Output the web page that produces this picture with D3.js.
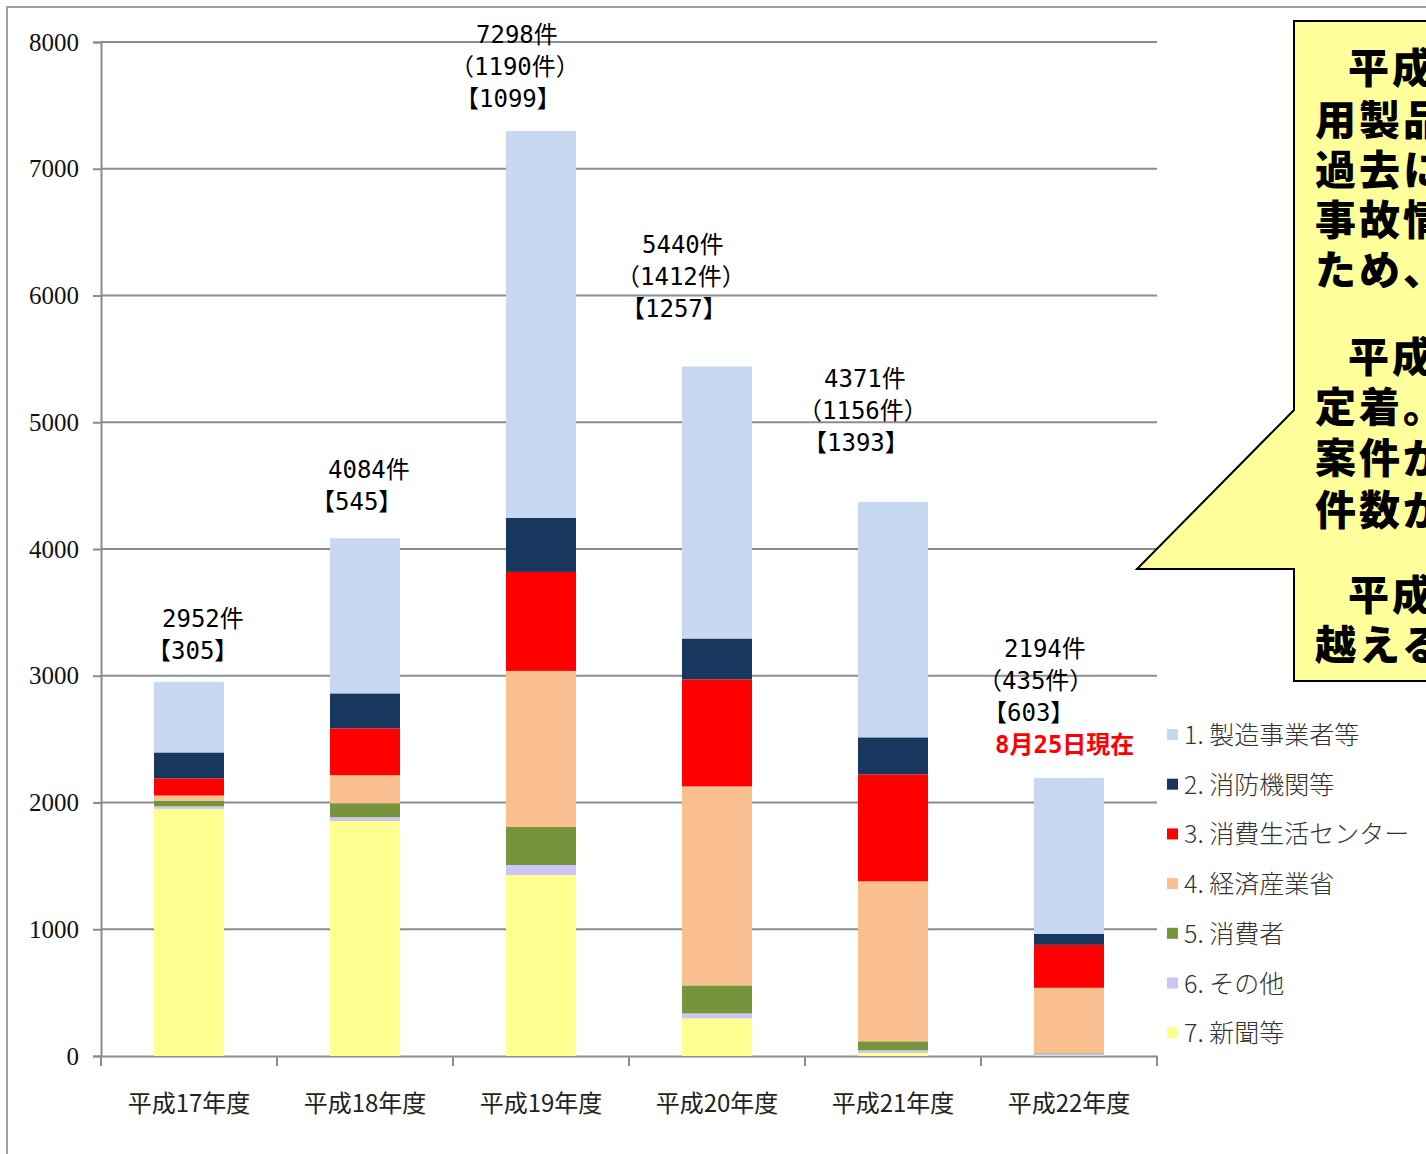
<!DOCTYPE html>
<html>
<head>
<meta charset="utf-8">
<script src="https://cdnjs.cloudflare.com/ajax/libs/d3/7.8.5/d3.min.js"></script>
<style>
  html, body { margin: 0; padding: 0; background: #fff; overflow: hidden; }
  svg { display: block; }
</style>
</head>
<body>
<svg id="chart" width="1426" height="1154"></svg>
<script>
// chart data
var years = ["平成17年度", "平成18年度", "平成19年度", "平成20年度", "平成21年度", "平成22年度"];
var seriesNames = ["1. 製造事業者等", "2. 消防機関等", "3. 消費生活センター", "4. 経済産業省", "5. 消費者", "6. その他", "7. 新聞等"];
var seriesColors = ["#c6d9f1", "#17375e", "#ff0000", "#fac090", "#77933c", "#ccc6f4", "#ffff8f"];
// values per series, one per year (stack bottom = 7. 新聞等)
var makers    = [557, 1223, 3053, 2146, 1857, 1230];
var fireDept  = [205, 276, 426, 323, 292, 87];
var centers   = [135, 370, 781, 844, 844, 339];
var meti      = [40, 221, 1231, 1570, 1262, 513];
var consumers = [45, 110, 300, 221, 71, 5];
var others    = [20, 30, 79, 39, 20, 15];
var papers    = [1950, 1854, 1428, 297, 25, 5];
var totals    = [2952, 4084, 7298, 5440, 4371, 2194];
var subCounts = [null, null, 1190, 1412, 1156, 435];
var bracketCounts = [305, 545, 1099, 1257, 1393, 603];
var yTicks = [0, 1000, 2000, 3000, 4000, 5000, 6000, 7000, 8000];
var noteText = "8月25日現在";
var calloutLines = ["　平成", "用製品", "過去に", "事故情", "ため、", "　平成", "定着。", "案件が", "件数が", "　平成", "越える"];

// layout
var labelDx = [-30, -42, -74, -84, -78, -74];   // text block left relative to band centre
var numberIndent = [3, 5, 9, 9, 9, 9];          // indent of the "件" total line
var labelGap = [19, 24, 20, 45, 47, 21];        // gap between block bottom and bar top
var calloutY = [68, 120, 170, 220, 270, 357, 407, 458, 510, 595, 645]; // line centres

var svg = d3.select("#chart");
var monoFont = "'DejaVu Sans Mono', 'Noto Sans CJK JP', monospace";
var cjkFont = "'Noto Sans CJK JP', sans-serif";

// outer frame
svg.append("rect")
  .attr("x", 7).attr("y", 7).attr("width", 1500).attr("height", 1300)
  .attr("fill", "#fff").attr("stroke", "#a0a0a0").attr("stroke-width", 2);

var x = d3.scaleBand().domain(years).range([101, 1157]).paddingInner(0).paddingOuter(0);
var y = d3.scaleLinear().domain([0, 8000]).range([1056, 42]);
var barW = 70;

// gridlines
svg.append("g").selectAll("line").data(yTicks.filter(function(d) { return d > 0; }))
  .join("line")
  .attr("x1", 101).attr("x2", 1157)
  .attr("y1", function(d) { return y(d); }).attr("y2", function(d) { return y(d); })
  .attr("stroke", "#8c8c8c").attr("stroke-width", 2);

// y axis
var yAxis = svg.append("g").attr("transform", "translate(101,0)")
  .call(d3.axisLeft(y).tickValues(yTicks).tickSize(8).tickPadding(14).tickFormat(d3.format("d")));
yAxis.attr("font-family", null).attr("font-size", null);
yAxis.select(".domain").attr("stroke", "#8c8c8c").attr("stroke-width", 2);
yAxis.selectAll(".tick line").attr("stroke", "#8c8c8c").attr("stroke-width", 2);
yAxis.selectAll("text")
  .style("font-family", "'Liberation Serif', 'DejaVu Serif', serif")
  .style("font-size", "25px").attr("fill", "#111");

// x axis (ticks at category boundaries)
var xAxis = svg.append("g").attr("transform", "translate(0," + y(0) + ")")
  .call(d3.axisBottom(x).tickSize(0).tickPadding(39));
xAxis.select(".domain").attr("stroke", "#8c8c8c").attr("stroke-width", 2);
xAxis.selectAll("text").style("font-family", cjkFont).style("font-size", "24px").attr("fill", "#222");
svg.append("g").selectAll("line").data(years.concat(["end"]))
  .join("line")
  .attr("x1", function(d, i) { return 101 + i * x.bandwidth(); })
  .attr("x2", function(d, i) { return 101 + i * x.bandwidth(); })
  .attr("y1", y(0)).attr("y2", y(0) + 10)
  .attr("stroke", "#8c8c8c").attr("stroke-width", 2);

// stacked bars
var seriesValues = [makers, fireDept, centers, meti, consumers, others, papers];
var rows = years.map(function(yr, i) {
  var r = { year: yr };
  seriesNames.forEach(function(s, k) { r[s] = seriesValues[k][i]; });
  return r;
});
var stackOrder = seriesNames.slice().reverse();
var stacked = d3.stack().keys(stackOrder)(rows);

svg.append("g").selectAll("g").data(stacked)
  .join("g")
  .attr("fill", function(d) { return seriesColors[seriesNames.indexOf(d.key)]; })
  .selectAll("rect").data(function(d) { return d; })
  .join("rect")
  .attr("x", function(d) { return x(d.data.year) + x.bandwidth() / 2 - barW / 2; })
  .attr("width", barW)
  .attr("y", function(d) { return y(d[1]); })
  .attr("height", function(d) { return y(d[0]) - y(d[1]); });

// value labels above bars
years.forEach(function(yr, i) {
  var lines = [{ t: totals[i] + "件", dx: numberIndent[i], color: "#000", bold: false }];
  if (subCounts[i] != null) lines.push({ t: "（" + subCounts[i] + "件）", dx: -17, color: "#000", bold: false });
  lines.push({ t: "【" + bracketCounts[i] + "】", dx: -12, color: "#000", bold: false });
  if (i === years.length - 1) lines.push({ t: noteText, dx: 0, color: "#ff0000", bold: true });
  var x0 = x(yr) + x.bandwidth() / 2 + labelDx[i];
  var bottom = y(totals[i]) - labelGap[i];
  var lineH = 32;
  lines.forEach(function(l, k) {
    svg.append("text")
      .attr("x", x0 + l.dx)
      .attr("y", bottom - (lines.length - 1 - k) * lineH - 4)
      .attr("font-family", monoFont)
      .attr("font-size", 24)
      .attr("font-weight", l.bold ? "bold" : "normal")
      .attr("fill", l.color)
      .text(l.t);
  });
});

// legend
var legend = svg.append("g").attr("transform", "translate(1167,735)");
var items = legend.selectAll("g").data(seriesNames)
  .join("g")
  .attr("transform", function(d, i) { return "translate(0," + (i * 49.7) + ")"; });
items.append("rect")
  .attr("x", 0).attr("y", -6).attr("width", 11).attr("height", 11)
  .attr("fill", function(d, i) { return seriesColors[i]; });
items.append("text")
  .attr("x", 17).attr("y", 9)
  .attr("font-family", cjkFont).attr("font-size", 25).attr("font-weight", 300)
  .attr("fill", "#333")
  .text(function(d) { return d; });

// callout box with pointer
var callout = d3.path();
callout.moveTo(1294, 21);
callout.lineTo(1460, 21);
callout.lineTo(1460, 681);
callout.lineTo(1294, 681);
callout.lineTo(1294, 569);
callout.lineTo(1137, 569);
callout.lineTo(1294, 410);
callout.closePath();
svg.append("path").attr("d", callout.toString())
  .attr("fill", "#ffff9c").attr("stroke", "#000").attr("stroke-width", 2);

// paragraph starts are indented by the leading ideographic space
svg.append("g").selectAll("text").data(calloutLines)
  .join("text")
  .attr("x", function(d) { return d.charAt(0) === "　" ? 1348 : 1315; })
  .attr("y", function(d, i) { return calloutY[i] + 15; })
  .attr("font-family", cjkFont).attr("font-size", 41).attr("font-weight", 900)
  .attr("letter-spacing", 3)
  .attr("fill", "#000")
  .text(function(d) { return d.replace(/^　/, ""); });
</script>
</body>
</html>
